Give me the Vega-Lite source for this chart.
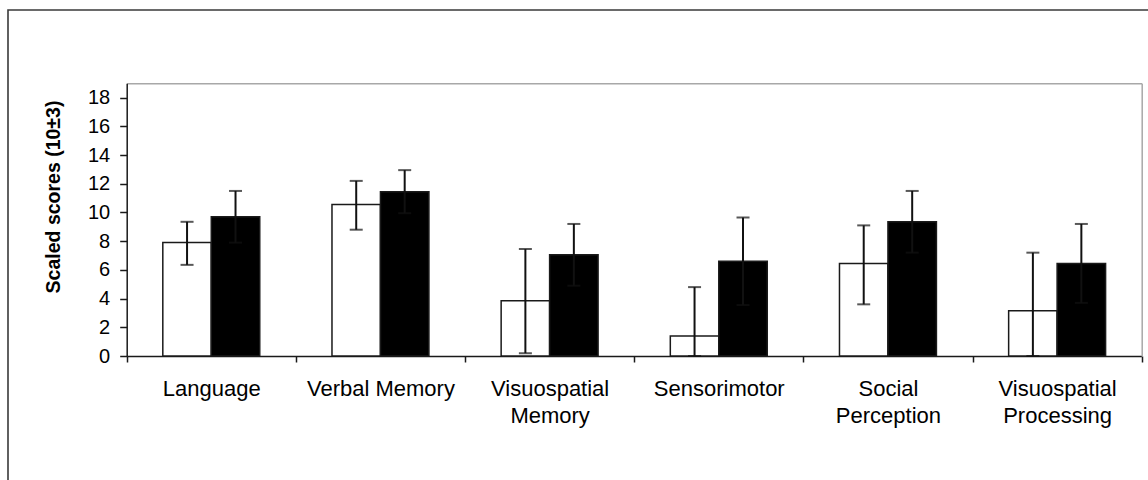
{
  "$schema": "https://vega.github.io/schema/vega-lite/v6.json",
  "width": 1300,
  "height": 600,
  "autosize": "none",
  "padding": {"left": 8, "top": 10, "right": -160, "bottom": -130},
  "background": "white",
  "config": {
    "font": "Liberation Sans",
    "view": {"stroke": "#3a3a3a", "strokeWidth": 1.6},
    "axis": {"grid": false}
  },
  "data": {
    "values": [
      {"domain": "Language", "group": "Group 1", "mean": 7.9, "lo": 6.35, "hi": 9.35},
      {"domain": "Language", "group": "Group 2", "mean": 9.7, "lo": 7.9, "hi": 11.5},
      {"domain": "Verbal Memory", "group": "Group 1", "mean": 10.55, "lo": 8.8, "hi": 12.2},
      {"domain": "Verbal Memory", "group": "Group 2", "mean": 11.45, "lo": 9.95, "hi": 12.95},
      {"domain": "Visuospatial Memory", "group": "Group 1", "mean": 3.85, "lo": 0.2, "hi": 7.45},
      {"domain": "Visuospatial Memory", "group": "Group 2", "mean": 7.05, "lo": 4.9, "hi": 9.2},
      {"domain": "Sensorimotor", "group": "Group 1", "mean": 1.4, "lo": -2.05, "hi": 4.8},
      {"domain": "Sensorimotor", "group": "Group 2", "mean": 6.6, "lo": 3.55, "hi": 9.65},
      {"domain": "Social Perception", "group": "Group 1", "mean": 6.45, "lo": 3.6, "hi": 9.1},
      {"domain": "Social Perception", "group": "Group 2", "mean": 9.35, "lo": 7.2, "hi": 11.5},
      {"domain": "Visuospatial Processing", "group": "Group 1", "mean": 3.15, "lo": -0.9, "hi": 7.2},
      {"domain": "Visuospatial Processing", "group": "Group 2", "mean": 6.45, "lo": 3.7, "hi": 9.2}
    ]
  },
  "encoding": {
    "x": {
      "field": "domain",
      "type": "nominal",
      "sort": ["Language", "Verbal Memory", "Visuospatial Memory", "Sensorimotor", "Social Perception", "Visuospatial Processing"],
      "scale": {"range": [118.7, 1133.7], "paddingInner": 0, "paddingOuter": 0}
    },
    "xOffset": {
      "field": "group",
      "type": "nominal",
      "scale": {"paddingInner": 0, "paddingOuter": 0.745}
    }
  },
  "layer": [
    {
      "mark": {"type": "bar", "stroke": "#1a1a1a", "strokeWidth": 1.5},
      "encoding": {
        "x": {
          "field": "domain",
          "type": "nominal",
          "sort": ["Language", "Verbal Memory", "Visuospatial Memory", "Sensorimotor", "Social Perception", "Visuospatial Processing"],
          "axis": {
            "orient": "bottom",
            "offset": -254,
            "title": null,
            "labelAngle": 0,
            "tickBand": "extent",
            "domainColor": "#1a1a1a",
            "domainWidth": 1.5,
            "tickColor": "#1a1a1a",
            "tickWidth": 1.5,
            "tickSize": 6,
            "labelFontSize": 22,
            "labelColor": "#000000",
            "labelPadding": 16,
            "labelLineHeight": 27,
            "labelOverlap": false,
            "labelLimit": 0,
            "labelExpr": "datum.label == 'Verbal Memory' ? datum.label : split(datum.label, ' ')"
          }
        },
        "y": {
          "field": "mean",
          "type": "quantitative",
          "scale": {"domain": [0, 19], "range": [346, 73.3], "clamp": true, "nice": false, "zero": true},
          "axis": {
            "orient": "left",
            "offset": -118.7,
            "values": [0, 2, 4, 6, 8, 10, 12, 14, 16, 18],
            "domainColor": "#1a1a1a",
            "domainWidth": 1.5,
            "tickColor": "#1a1a1a",
            "tickWidth": 1.5,
            "tickSize": 7,
            "labelFontSize": 20,
            "labelColor": "#000000",
            "labelPadding": 10,
            "title": "Scaled scores (10±3)",
            "titleFontSize": 19.5,
            "titleFontWeight": "bold",
            "titleColor": "#000000",
            "titleAngle": 270,
            "titleX": -73.7,
            "titleY": 186.5,
            "titleAlign": "center",
            "titleBaseline": "middle"
          }
        },
        "fill": {
          "field": "group",
          "type": "nominal",
          "scale": {"domain": ["Group 1", "Group 2"], "range": ["#ffffff", "#000000"]},
          "legend": null
        }
      }
    },
    {
      "mark": {"type": "rule", "color": "#111111", "strokeWidth": 2},
      "encoding": {
        "x": {
          "field": "domain",
          "type": "nominal",
          "sort": ["Language", "Verbal Memory", "Visuospatial Memory", "Sensorimotor", "Social Perception", "Visuospatial Processing"],
          "axis": {
            "orient": "top",
            "offset": -73.3,
            "ticks": false,
            "labels": false,
            "title": null,
            "domainColor": "#a8a8a8",
            "domainWidth": 1.5
          }
        },
        "y": {
          "field": "lo",
          "type": "quantitative",
          "axis": {
            "orient": "right",
            "offset": -166.3,
            "ticks": false,
            "labels": false,
            "title": null,
            "domainColor": "#a8a8a8",
            "domainWidth": 1.5
          }
        },
        "y2": {"field": "hi"}
      }
    },
    {
      "mark": {"type": "tick", "orient": "horizontal", "color": "#111111", "size": 13, "thickness": 2},
      "encoding": {
        "x": {"field": "domain", "type": "nominal", "sort": ["Language", "Verbal Memory", "Visuospatial Memory", "Sensorimotor", "Social Perception", "Visuospatial Processing"], "axis": null},
        "y": {"field": "hi", "type": "quantitative", "axis": null}
      }
    },
    {
      "mark": {"type": "tick", "orient": "horizontal", "color": "#111111", "size": 13, "thickness": 2},
      "encoding": {
        "x": {"field": "domain", "type": "nominal", "sort": ["Language", "Verbal Memory", "Visuospatial Memory", "Sensorimotor", "Social Perception", "Visuospatial Processing"], "axis": null},
        "y": {"field": "lo", "type": "quantitative", "axis": null}
      }
    }
  ],
  "resolve": {"axis": {"x": "independent", "y": "independent"}}
}
